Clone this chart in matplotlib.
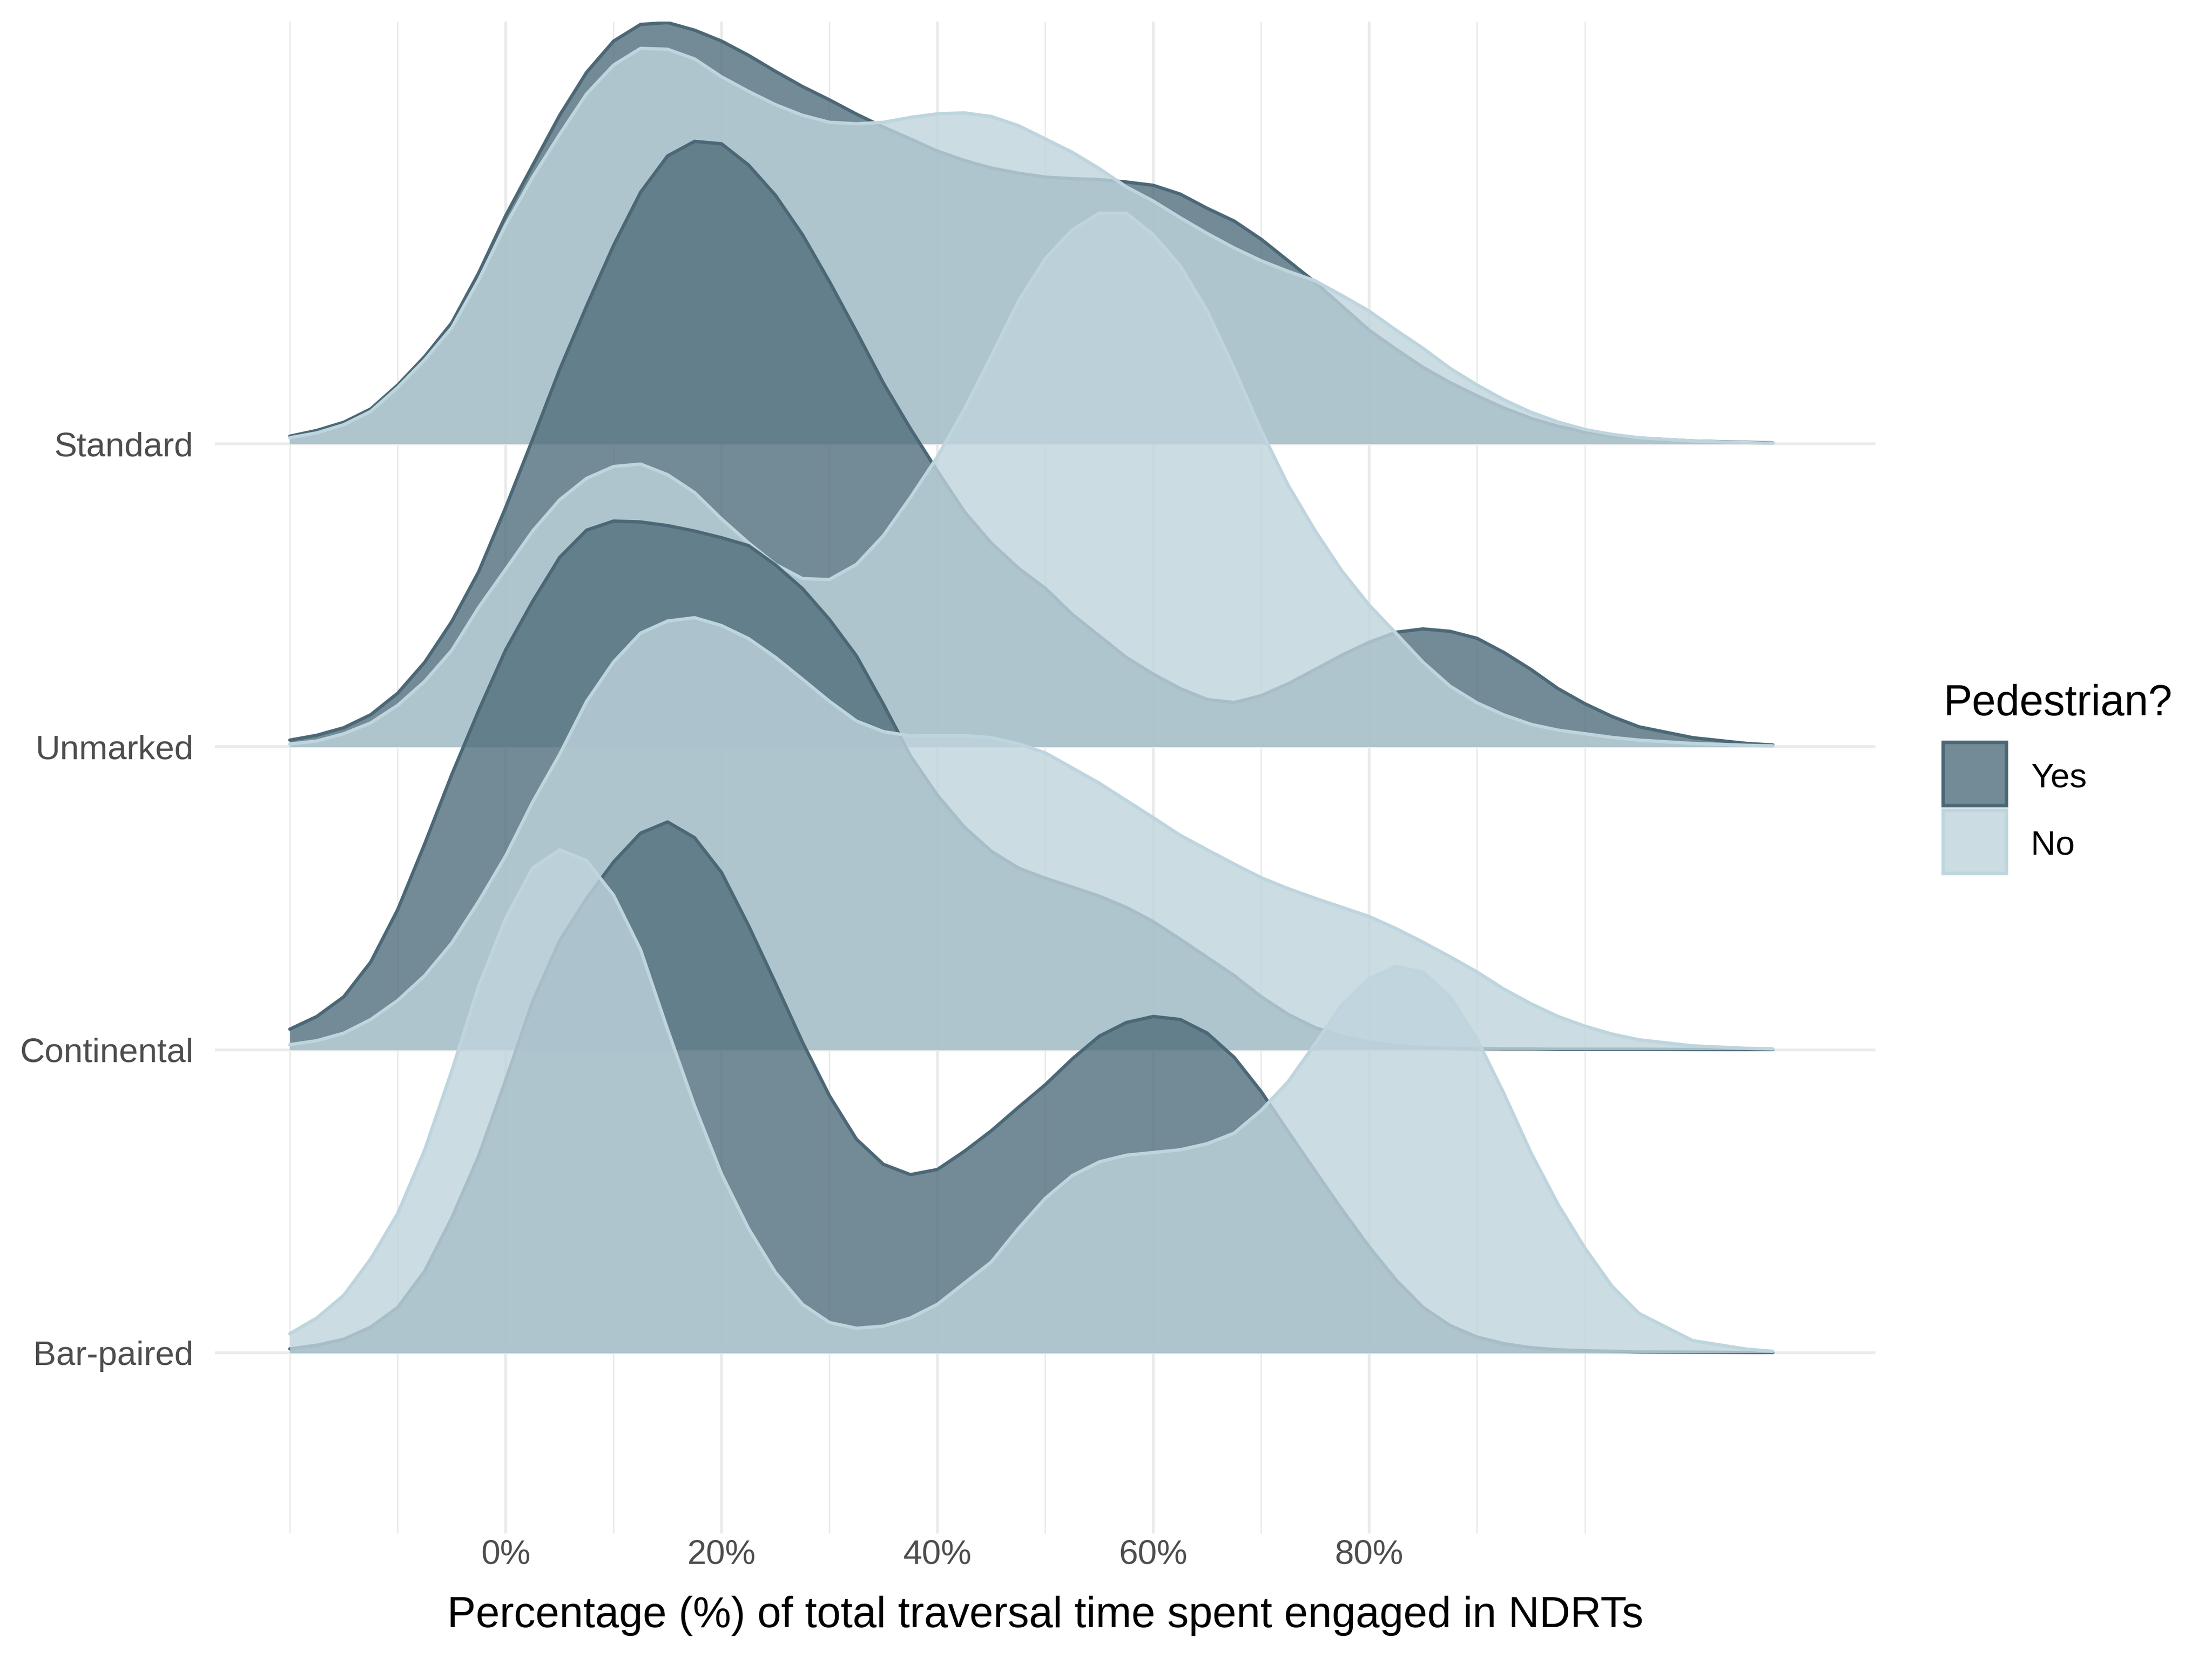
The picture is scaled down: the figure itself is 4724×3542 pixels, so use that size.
import matplotlib.pyplot as plt
from matplotlib.patches import Rectangle

plt.rcParams['font.family'] = ['Liberation Sans', 'DejaVu Sans']

# ridge names, bottom to top
crossings = ['Bar-paired', 'Continental', 'Unmarked', 'Standard']

pct = [-20, -17.5, -15, -12.5, -10, -7.5, -5, -2.5, 0, 2.5, 5, 7.5, 10, 12.5, 15, 17.5,
       20, 22.5, 25, 27.5, 30, 32.5, 35, 37.5, 40, 42.5, 45, 47.5, 50, 52.5, 55, 57.5,
       60, 62.5, 65, 67.5, 70, 72.5, 75, 77.5, 80, 82.5, 85, 87.5, 90, 92.5, 95, 97.5,
       100, 102.5, 105, 110, 115, 117.4]

# density heights in ridge units (1 = distance between two ridges)
std_yes = [0.025, 0.044, 0.071, 0.115, 0.194, 0.288, 0.399, 0.564, 0.753, 0.919, 1.084, 1.226, 1.329, 1.384, 1.390, 1.365,
           1.329, 1.282, 1.229, 1.179, 1.135, 1.088, 1.045, 1.006, 0.966, 0.935, 0.910, 0.893, 0.880, 0.875, 0.872, 0.864,
           0.853, 0.824, 0.777, 0.735, 0.675, 0.604, 0.533, 0.454, 0.375, 0.312, 0.252, 0.202, 0.158, 0.118, 0.084, 0.058,
           0.039, 0.027, 0.019, 0.009, 0.005, 0.003]
std_no = [0.020, 0.036, 0.063, 0.107, 0.186, 0.277, 0.383, 0.541, 0.722, 0.880, 1.021, 1.155, 1.250, 1.305, 1.302, 1.270,
          1.211, 1.163, 1.119, 1.084, 1.061, 1.056, 1.061, 1.077, 1.089, 1.092, 1.080, 1.050, 1.006, 0.962, 0.908, 0.848,
          0.801, 0.746, 0.694, 0.646, 0.604, 0.569, 0.538, 0.489, 0.438, 0.375, 0.315, 0.249, 0.194, 0.145, 0.104, 0.072,
          0.047, 0.031, 0.020, 0.009, 0.004, 0.002]

unm_yes = [0.022, 0.038, 0.063, 0.106, 0.177, 0.279, 0.413, 0.578, 0.790, 1.015, 1.245, 1.455, 1.655, 1.830, 1.950, 1.998,
           1.990, 1.920, 1.820, 1.690, 1.535, 1.370, 1.200, 1.050, 0.910, 0.776, 0.672, 0.590, 0.523, 0.437, 0.366, 0.295,
           0.240, 0.192, 0.156, 0.146, 0.169, 0.208, 0.255, 0.303, 0.345, 0.378, 0.389, 0.381, 0.358, 0.311, 0.255, 0.192,
           0.142, 0.100, 0.066, 0.030, 0.011, 0.006]
unm_no = [0.009, 0.019, 0.043, 0.079, 0.137, 0.216, 0.318, 0.460, 0.586, 0.712, 0.815, 0.886, 0.925, 0.933, 0.898, 0.839,
          0.752, 0.673, 0.602, 0.555, 0.552, 0.602, 0.697, 0.823, 0.957, 1.114, 1.290, 1.470, 1.611, 1.706, 1.761, 1.761,
          1.690, 1.587, 1.438, 1.248, 1.044, 0.863, 0.713, 0.579, 0.468, 0.374, 0.279, 0.200, 0.145, 0.105, 0.074, 0.055,
          0.043, 0.031, 0.022, 0.011, 0.005, 0.003]

cont_yes = [0.068, 0.110, 0.175, 0.290, 0.463, 0.680, 0.908, 1.120, 1.320, 1.480, 1.625, 1.715, 1.745, 1.742, 1.730, 1.712,
            1.690, 1.664, 1.600, 1.522, 1.420, 1.300, 1.140, 0.970, 0.840, 0.735, 0.655, 0.600, 0.566, 0.537, 0.507, 0.470,
            0.423, 0.365, 0.305, 0.245, 0.175, 0.117, 0.073, 0.045, 0.024, 0.014, 0.008, 0.005, 0.004, 0.003, 0.003, 0.002,
            0.002, 0.002, 0.002, 0.001, 0.001, 0.001]
cont_no = [0.017, 0.030, 0.055, 0.100, 0.163, 0.245, 0.352, 0.490, 0.640, 0.818, 0.975, 1.150, 1.280, 1.375, 1.415, 1.426,
           1.400, 1.357, 1.295, 1.223, 1.150, 1.085, 1.050, 1.036, 1.037, 1.037, 1.030, 1.010, 0.980, 0.930, 0.880, 0.823,
           0.766, 0.708, 0.660, 0.613, 0.568, 0.532, 0.500, 0.470, 0.440, 0.400, 0.355, 0.307, 0.257, 0.200, 0.152, 0.110,
           0.078, 0.052, 0.033, 0.013, 0.005, 0.003]

bar_yes = [0.013, 0.025, 0.045, 0.085, 0.150, 0.270, 0.445, 0.650, 0.900, 1.160, 1.360, 1.500, 1.620, 1.715, 1.752, 1.700,
           1.585, 1.410, 1.220, 1.025, 0.848, 0.705, 0.622, 0.588, 0.605, 0.665, 0.733, 0.810, 0.885, 0.970, 1.045, 1.090,
           1.110, 1.100, 1.055, 0.975, 0.862, 0.730, 0.600, 0.472, 0.350, 0.240, 0.150, 0.090, 0.052, 0.030, 0.017, 0.010,
           0.007, 0.005, 0.003, 0.002, 0.001, 0.001]
bar_no = [0.063, 0.115, 0.190, 0.310, 0.460, 0.670, 0.930, 1.210, 1.434, 1.600, 1.660, 1.624, 1.510, 1.330, 1.067, 0.815,
          0.590, 0.410, 0.265, 0.160, 0.100, 0.081, 0.088, 0.115, 0.160, 0.230, 0.300, 0.410, 0.510, 0.585, 0.630, 0.652,
          0.661, 0.670, 0.690, 0.725, 0.800, 0.895, 1.020, 1.150, 1.235, 1.275, 1.256, 1.175, 1.035, 0.855, 0.660, 0.490,
          0.345, 0.220, 0.130, 0.040, 0.012, 0.005]

series = {
    'Standard': [std_yes, std_no],
    'Unmarked': [unm_yes, unm_no],
    'Continental': [cont_yes, cont_no],
    'Bar-paired': [bar_yes, bar_no],
}

x_major = [0, 20, 40, 60, 80]
x_labels = ['0%', '20%', '40%', '60%', '80%']
x_minor = [-20, -10, 10, 30, 50, 70, 90, 100]

groups = ['Yes', 'No']
fill_cols = {'Yes': '#506e7c', 'No': '#bfd4dd'}
line_cols = {'Yes': '#4c6876', 'No': '#bed5de'}
ALPHA = 0.8
GRID = '#ebebeb'

W, H, DPI = 4724, 3542, 300
fig = plt.figure(figsize=(W / DPI, H / DPI), dpi=DPI)
ax = fig.add_axes([459 / W, 1 - 3276 / H, (4005 - 459) / W, (3276 - 46) / H])

# grid
for v in x_major:
    ax.axvline(v, color=GRID, lw=1.45, zorder=0)
for v in x_minor:
    ax.axvline(v, color=GRID, lw=0.75, zorder=0)
for i in range(len(crossings)):
    ax.axhline(i + 1, color=GRID, lw=1.45, zorder=0)

# ridges, top one first so lower ridges overlap it
z = 1
for name in reversed(crossings):
    base = crossings.index(name) + 1
    for grp, hs in zip(groups, series[name]):
        top = [base + h for h in hs]
        ax.fill_between(pct, base, top, color=fill_cols[grp], alpha=ALPHA, lw=0, zorder=z)
        ax.plot(pct, top, color=line_cols[grp], lw=1.7, solid_capstyle='round',
                solid_joinstyle='round', zorder=z + 0.5)
        z += 1

ax.set_xlim(-26.94, 126.9)
ax.set_ylim(0.4037, 5.3935)
ax.set_xticks(x_major)
ax.set_xticklabels(x_labels)
ax.set_yticks(range(1, len(crossings) + 1))
ax.set_yticklabels(crossings)
ax.tick_params(length=0, labelsize=17.6, labelcolor='#4d4d4d')
ax.tick_params(axis='x', pad=2.9)
ax.tick_params(axis='y', pad=11)
for s in ax.spines.values():
    s.set_visible(False)

fig.text(2232 / W, 1 - 3476 / H, 'Percentage (%) of total traversal time spent engaged in NDRTs',
         ha='center', va='baseline', fontsize=22, color='black')

# legend
fig.text(4151 / W, 1 - 1528 / H, 'Pedestrian?', ha='left', va='baseline', fontsize=22)
key_tops = [1586, 1731]
for grp, kt in zip(groups, key_tops):
    fig.add_artist(Rectangle((4150 / W, 1 - (kt + 135) / H), 135 / W, 135 / H,
                             transform=fig.transFigure, facecolor=fill_cols[grp], alpha=ALPHA,
                             edgecolor='none'))
    fig.add_artist(Rectangle((4150 / W, 1 - (kt + 135) / H), 135 / W, 135 / H,
                             transform=fig.transFigure, facecolor='none',
                             edgecolor=line_cols[grp], lw=1.8))
    fig.text(4337 / W, 1 - (kt + 95) / H, grp, ha='left', va='baseline', fontsize=17.6)

fig.savefig('out.png', dpi=DPI)
